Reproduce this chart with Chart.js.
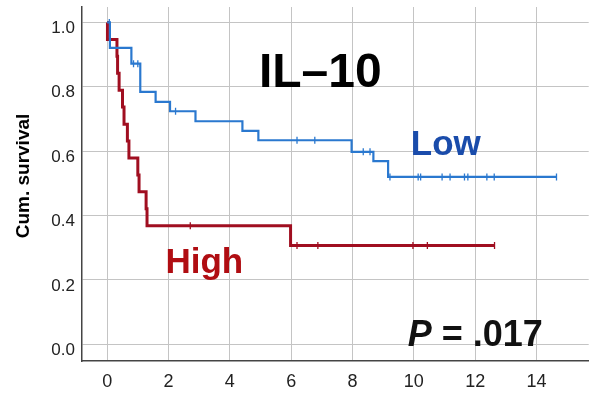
<!DOCTYPE html>
<html>
<head>
<meta charset="utf-8">
<script src="https://cdn.jsdelivr.net/npm/chart.js@4/dist/chart.umd.min.js"></script>
<style>
  html, body { margin: 0; padding: 0; background: #fff; }
  #wrap { width: 594px; height: 394px; }
</style>
</head>
<body>
<div id="wrap"><canvas id="km"></canvas></div>
<script>
// survival steps (time in x, cum. survival after each drop)
const lowTimes  = [0, 0.09, 0.79, 1.08, 1.58, 2.05, 2.88, 4.41, 4.93, 7.97, 8.68, 9.16, 14.65];
const lowSurv   = [1.0, 0.921, 0.872, 0.784, 0.753, 0.724, 0.693, 0.663, 0.634, 0.598, 0.569, 0.52, 0.52];
const lowCensor = [0.07, 0.86, 1.0, 2.23, 6.19, 6.77, 8.35, 8.57, 9.22, 10.14, 10.22, 10.92, 11.18, 11.65, 11.76, 12.38, 12.62, 14.65];

const highTimes  = [0, 0.01, 0.32, 0.34, 0.39, 0.50, 0.55, 0.66, 0.71, 1.0, 1.04, 1.27, 1.30, 5.98, 12.63];
const highSurv   = [1.0, 0.947, 0.895, 0.842, 0.789, 0.737, 0.684, 0.632, 0.579, 0.526, 0.474, 0.421, 0.368, 0.307, 0.307];
const highCensor = [2.71, 6.19, 6.87, 9.97, 10.44, 12.63];

const xTicks = [0, 2, 4, 6, 8, 10, 12, 14];
const yTicks = [0, 0.2, 0.4, 0.6, 0.8, 1.0];

const blue = '#2a78cf';
const red = '#a00e20';
const font = "'Liberation Sans', Arial, sans-serif";

function toPts(ts, vs) {
  return ts.map((t, i) => ({ x: t, y: vs[i] }));
}
function levelAt(ts, vs, t) {
  let v = vs[0];
  for (let i = 0; i < ts.length; i++) if (ts[i] <= t) v = vs[i];
  return v;
}
function censorPts(cs, ts, vs) {
  return cs.map(t => ({ x: t, y: levelAt(ts, vs, t) }));
}

// text labels drawn on top, placed in data coordinates
const labels = [
  { text: 'IL\u201310', x: 6.95, y: 0.80, color: '#000', size: 48, align: 'center' },
  { text: 'Low', x: 9.9, y: 0.588, color: '#1a4cab', size: 35, align: 'left' },
  { text: 'High', x: 1.9, y: 0.22, color: '#b00d12', size: 35, align: 'left' },
];

const textPlugin = {
  id: 'texts',
  afterDatasetsDraw(chart) {
    const { ctx, scales } = chart;
    ctx.save();
    ctx.textBaseline = 'alphabetic';
    labels.forEach(l => {
      ctx.font = 'bold ' + l.size + 'px ' + font;
      ctx.fillStyle = l.color;
      ctx.textAlign = l.align;
      ctx.fillText(l.text, scales.x.getPixelForValue(l.x), scales.y.getPixelForValue(l.y));
    });
    // P value: italic P, then the rest
    const px = scales.x.getPixelForValue(9.8);
    const py = scales.y.getPixelForValue(-0.006);
    ctx.textAlign = 'left';
    ctx.fillStyle = '#111';
    ctx.font = 'italic bold 36px ' + font;
    ctx.fillText('P', px, py);
    const w = ctx.measureText('P').width;
    ctx.font = 'bold 36px ' + font;
    ctx.fillText(' = .017', px + w, py);
    // y axis title
    ctx.translate(24, 176);
    ctx.rotate(-Math.PI / 2);
    ctx.textAlign = 'center';
    ctx.textBaseline = 'middle';
    ctx.fillStyle = '#000';
    ctx.font = 'bold 19px ' + font;
    ctx.fillText('Cum. survival', 0, 0);
    ctx.restore();
  }
};

new Chart(document.getElementById('km'), {
  type: 'line',
  data: {
    datasets: [
      {
        label: 'Low',
        data: toPts(lowTimes, lowSurv),
        borderColor: blue,
        borderWidth: 2.2,
        stepped: 'before',
        pointRadius: 0,
        fill: false
      },
      {
        label: 'High',
        data: toPts(highTimes, highSurv),
        borderColor: red,
        borderWidth: 3,
        stepped: 'before',
        pointRadius: 0,
        fill: false
      },
      {
        label: 'Low censored',
        data: censorPts(lowCensor, lowTimes, lowSurv),
        showLine: false,
        pointStyle: 'line',
        rotation: 90,
        pointRadius: 3.5,
        borderColor: blue,
        borderWidth: 1.3
      },
      {
        label: 'High censored',
        data: censorPts(highCensor, highTimes, highSurv),
        showLine: false,
        pointStyle: 'line',
        rotation: 90,
        pointRadius: 3.5,
        borderColor: red,
        borderWidth: 1.3
      }
    ]
  },
  options: {
    responsive: true,
    maintainAspectRatio: false,
    animation: false,
    layout: { padding: { left: 0, right: 2, top: 7, bottom: 0 } },
    plugins: {
      legend: { display: false },
      tooltip: { enabled: false }
    },
    scales: {
      x: {
        type: 'linear',
        min: -0.82,
        max: 15.7,
        afterBuildTicks: s => { s.ticks = xTicks.map(v => ({ value: v })); },
        afterFit: s => { s.height = 33; s.paddingLeft = 0; s.paddingRight = 0; },
        grid: { color: '#c4c4c4', lineWidth: 1, drawTicks: false },
        border: { color: '#444', width: 1.5 },
        ticks: {
          padding: 10,
          color: '#222',
          font: { family: font, size: 18 },
          maxRotation: 0,
          callback: v => String(v)
        }
      },
      y: {
        type: 'linear',
        min: -0.052,
        max: 1.048,
        afterBuildTicks: s => { s.ticks = yTicks.map(v => ({ value: v })); },
        afterFit: s => { s.width = 82; s.paddingTop = 0; s.paddingBottom = 0; },
        grid: { color: '#c4c4c4', lineWidth: 1, drawTicks: false },
        border: { color: '#444', width: 1.5 },
        ticks: {
          padding: 7,
          color: '#222',
          labelOffset: 6,
          font: { family: font, size: 17 },
          callback: v => v.toFixed(1)
        }
      }
    }
  },
  plugins: [textPlugin]
});
</script>
</body>
</html>
